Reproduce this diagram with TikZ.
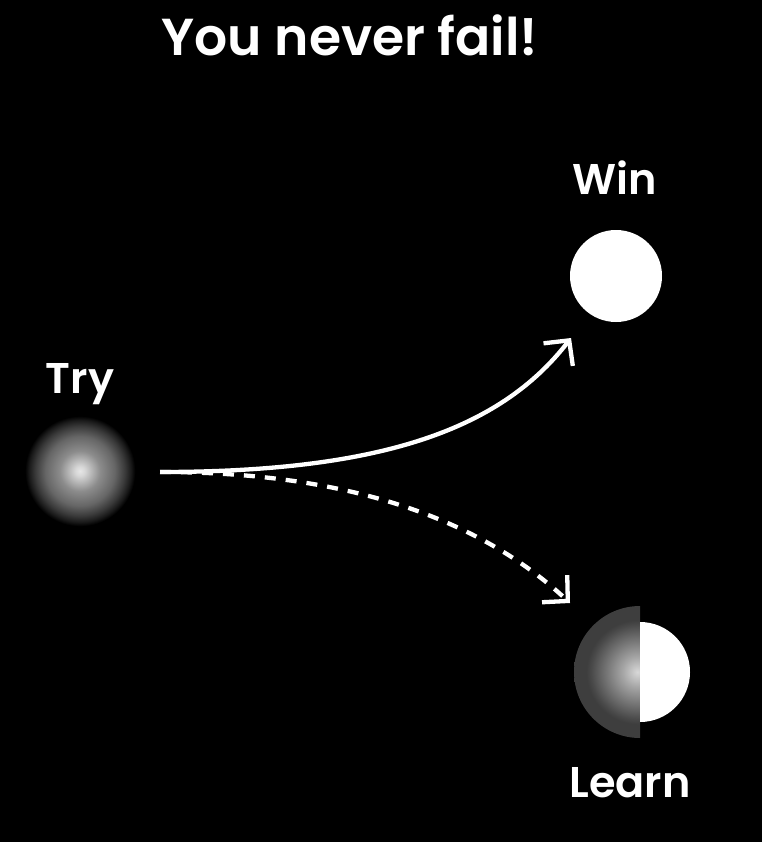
\documentclass[tikz,border=0pt]{standalone}
\usepackage{fontspec}
\setmainfont{Poppins}[BoldFont={Poppins SemiBold}]
\usepackage{xcolor}
\usetikzlibrary{arrows.meta}

\definecolor{tryhi}{HTML}{E6E6E6}
\definecolor{trymid}{HTML}{8C8C8C}
\definecolor{trylo}{HTML}{3A3A3A}
\definecolor{learnhi}{HTML}{D8D8D8}
\definecolor{learnmid}{HTML}{7A7A7A}
\definecolor{learnlo}{HTML}{3E3E3E}

% the rim of the circle sits at 25bp
\pgfdeclareradialshading{tryshade}{\pgfpoint{0bp}{0bp}}{%
  color(0bp)=(tryhi); color(2bp)=(tryhi!85!trymid); color(9bp)=(trymid);
  color(15.5bp)=(black!60); color(20bp)=(trylo); color(22.8bp)=(black!90);
  color(24.6bp)=(black); color(50bp)=(black)}
\pgfdeclareradialshading{learnshade}{\pgfpoint{-1bp}{0bp}}{%
  color(0bp)=(learnhi); color(5.7bp)=(black!35); color(11.4bp)=(learnmid);
  color(17.8bp)=(black!71); color(19.7bp)=(learnlo); color(50bp)=(learnlo)}

\begin{document}
\begin{tikzpicture}[
  x=1pt, y=1pt,
  >={Straight Barb[length=18pt,width=37pt]},
  tag/.style={text=white, font=\bfseries\fontsize{43}{50}\selectfont,
    anchor=base, inner sep=0pt},
  flow/.style={->, draw=white, line width=4.3pt},
  ball/.style={circle, inner sep=0pt}
]
\fill[black] (0,0) rectangle (762,-842);
\useasboundingbox (0,0) rectangle (762,-842);

\node[tag, font=\bfseries\fontsize{52}{60}\selectfont] (title) at (350,-56) {You never fail!};

% the three balls
\node[ball, minimum size=112pt, shading=tryshade] (try) at (80,-471) {};
\node[ball, minimum size=92pt, fill=white] (win) at (616,-276) {};
\begin{scope}
  \clip (560,-590) rectangle (640,-750);
  \node[ball, minimum size=132pt, shading=learnshade] (learn) at (640,-672) {};
\end{scope}
\fill[white] (learn.center) ++(0,50) arc[start angle=90, end angle=-90, radius=50] -- cycle;

\node[tag] (trytag) at (80,-393) {Try};
\node[tag] (wintag) at (615,-195) {Win};
\node[tag] (learntag) at (630,-797) {Learn};

% arrows
\coordinate (fork) at (160,-472);
\coordinate (winend) at (571,-338);
\coordinate (learnend) at (570,-603);
\draw[flow, dash pattern=on 11pt off 10pt] (fork) .. controls +(170,0) and +(-100,93) .. (learnend);
\draw[flow] (fork) .. controls +(220,0) and +(-71,-92) .. (winend);
\end{tikzpicture}
\end{document}
